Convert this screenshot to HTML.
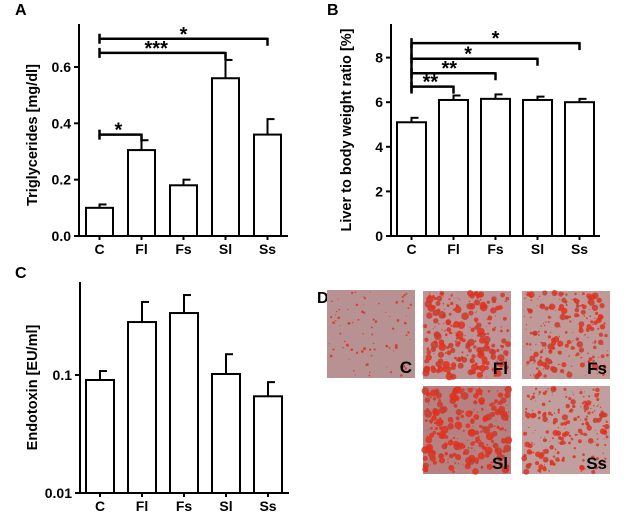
<!DOCTYPE html>
<html><head><meta charset="utf-8">
<style>
body{margin:0;background:#fff;}
svg{display:block;font-family:"Liberation Sans",Arial,sans-serif;font-weight:bold;}
</style></head>
<body>
<svg id="fig" width="630" height="517" viewBox="0 0 630 517">
</svg>
<script>
const categories = ["C","Fl","Fs","Sl","Ss"];
const trigValues = [0.10, 0.305, 0.18, 0.56, 0.36];
const trigErrors = [0.112, 0.34, 0.20, 0.625, 0.415];
const trigTicks = [0.0, 0.2, 0.4, 0.6];
const trigTickLabels = ["0.0","0.2","0.4","0.6"];
const liverValues = [5.1, 6.1, 6.15, 6.1, 6.0];
const liverErrors = [5.3, 6.3, 6.35, 6.25, 6.15];
const liverTicks = [0, 2, 4, 6, 8];
const endoValues = [0.0907, 0.281, 0.335, 0.102, 0.066];
const endoErrors = [0.108, 0.416, 0.476, 0.15, 0.087];
const endoTicks = [0.01, 0.1];
const endoTickLabels = ["0.01","0.1"];
const trigSig = [{to:1,y:0.36,label:"*"},{to:3,y:0.65,label:"***"},{to:4,y:0.70,label:"*"}];
const liverSig = [{to:1,y:6.7,label:"**"},{to:2,y:7.3,label:"**"},{to:3,y:7.95,label:"*"},{to:4,y:8.65,label:"*"}];

const svg = document.getElementById('fig');
const NS = "http://www.w3.org/2000/svg";
function mk(tag, attrs, parent){const e=document.createElementNS(NS,tag);for(const k in attrs)e.setAttribute(k,attrs[k]);(parent||svg).appendChild(e);return e;}
function txt(x,y,s,size,anchor,parent,rot){const t=mk('text',{x:x,y:y,'font-size':size,'text-anchor':anchor||'middle',fill:'#000'},parent);if(rot)t.setAttribute('transform','rotate(-90 '+x+' '+y+')');t.textContent=s;return t;}

function panel(opt){
  const g=mk('g',{});
  
  
  const L=txt(opt.letterX,opt.letterY,opt.letter,16,'start',g);
  
  
  const y=opt.yScale, x0=opt.axisX, yb=opt.baseY;
  const ax=mk('path',{d:`M${x0} ${opt.topY} V${yb} H${opt.endX}`,stroke:'#000','stroke-width':2,fill:'none'},g);
  
  
  opt.ticks.forEach((v,i)=>{
    const ty=y(v);
    mk('line',{x1:x0-5,x2:x0,y1:ty,y2:ty,stroke:'#000','stroke-width':2},g);
    const t=txt(x0-8,ty+5,opt.tickLabels[i],14,'end',g);
    
    
  });
  const yt=txt(opt.ytX,(opt.topY+yb)/2+opt.ytShift,opt.ytitle,opt.ytSize,'middle',g,true);
  
  
  const cx=[];
  categories.forEach((c,i)=>{
    const xl=opt.firstBar+i*opt.step, w=opt.barW, xc=xl+w/2; cx.push(xc);
    const top=y(opt.values[i]), et=y(opt.errors[i]);
    const e=mk('line',{x1:xc,x2:xc,y1:et,y2:top,stroke:'#000','stroke-width':2},g);
    
    
    mk('line',{x1:xc-1,x2:xc+7,y1:et,y2:et,stroke:'#000','stroke-width':2},g);
    const r=mk('rect',{x:xl,y:top,width:w,height:yb-top,fill:'#fff',stroke:'#000','stroke-width':2},g);
    
    
    mk('line',{x1:xc,x2:xc,y1:yb,y2:yb+4,stroke:'#000','stroke-width':2},g);
    const t=txt(xc,yb+18,c,14,'middle',g);
    
    
  });
  (opt.sig||[]).forEach(s=>{
    const sy=y(s.y), xr=cx[s.to], xl=cx[0];
    const b=mk('path',{d:`M${xl} ${sy-5} V${sy+5} M${xl} ${sy} H${xr} M${xr} ${sy-1} V${sy+7}`,stroke:'#000','stroke-width':2.5,fill:'none'},g);
    
    
    const t=txt((xl+xr)/2-(s.to==4?0:(xr-xl)*0.05),sy+2,s.label,20,'middle',g);
    
    
  });
  if(opt.leftBracket){
    const ys=opt.sig.map(s=>y(s.y));
    mk('line',{x1:cx[0],x2:cx[0],y1:Math.min(...ys),y2:Math.max(...ys)+7,stroke:'#000','stroke-width':2.5},g);
  }
}

panel({name:'panel-a-triglycerides',letter:'A',letterX:15,letterY:15,axisX:79,baseY:236,topY:24,endX:288,
  yScale:v=>236-v*281.7,ticks:trigTicks,tickLabels:trigTickLabels,ytitle:'Triglycerides [mg/dl]',ytX:37,ytSize:14.5,ytShift:5,
  firstBar:86,step:42,barW:27,values:trigValues,errors:trigErrors,sig:trigSig});
panel({name:'panel-b-liver-ratio',letter:'B',letterX:327,letterY:15,axisX:391,baseY:236,topY:24,endX:600,
  yScale:v=>236-v*22.3,ticks:liverTicks,tickLabels:liverTicks.map(String),ytitle:'Liver to body weight ratio [%]',ytX:351,ytSize:14.5,ytShift:0,
  firstBar:397,step:42,barW:29,values:liverValues,errors:liverErrors,sig:liverSig,leftBracket:true});
panel({name:'panel-c-endotoxin',letter:'C',letterX:15,letterY:278,axisX:80,baseY:493,topY:282,endX:289,
  yScale:v=>375-Math.log10(v/0.1)*118,ticks:endoTicks,tickLabels:endoTickLabels,ytitle:'Endotoxin [EU/ml]',ytX:37,ytSize:14.5,ytShift:0,
  firstBar:86,step:42,barW:28,values:endoValues,errors:endoErrors});

// Panel D micrographs (decorative textures)
const gD=mk('g',{});


const dl=txt(317,303,'D',16,'start',gD);


const imgs=[{l:'C',x:327,y:290,base:'#b59fa4',n:80,rmax:1.0,ov:0.14},{l:'Fl',x:423,y:291,base:'#b8adb8',n:260,rmax:3.4,ov:0.25},
 {l:'Fs',x:522,y:291,base:'#bcb0b6',n:220,rmax:2.8,ov:0.22},{l:'Sl',x:423,y:386,base:'#ad9aa6',n:260,rmax:3.6,ov:0.3},
 {l:'Ss',x:522,y:386,base:'#bdb4ba',n:220,rmax:2.6,ov:0.2}];
let seed=7;function rnd(){seed=(seed*16807)%2147483647;return seed/2147483647;}
imgs.forEach(im=>{
  const g=mk('g',{},gD);
  
  
  const w=88,h=88;
  mk('rect',{x:im.x,y:im.y,width:w,height:h,fill:im.base},g);
  mk('rect',{x:im.x,y:im.y,width:w,height:h,fill:'#d04a30',opacity:im.ov},g);
  for(let i=0;i<im.n;i++){
    const r=0.5+Math.pow(rnd(),1.6)*im.rmax;
    mk('circle',{cx:im.x+2+rnd()*(w-4),cy:im.y+2+rnd()*(h-4),r:r,fill:rnd()<0.5?'#e2301c':'#cc3a2a',opacity:0.85},g);
  }
  const t=txt(im.x+w-3,im.y+h-5,im.l,17,'end',g);
  
  
});
</script>
</body></html>
